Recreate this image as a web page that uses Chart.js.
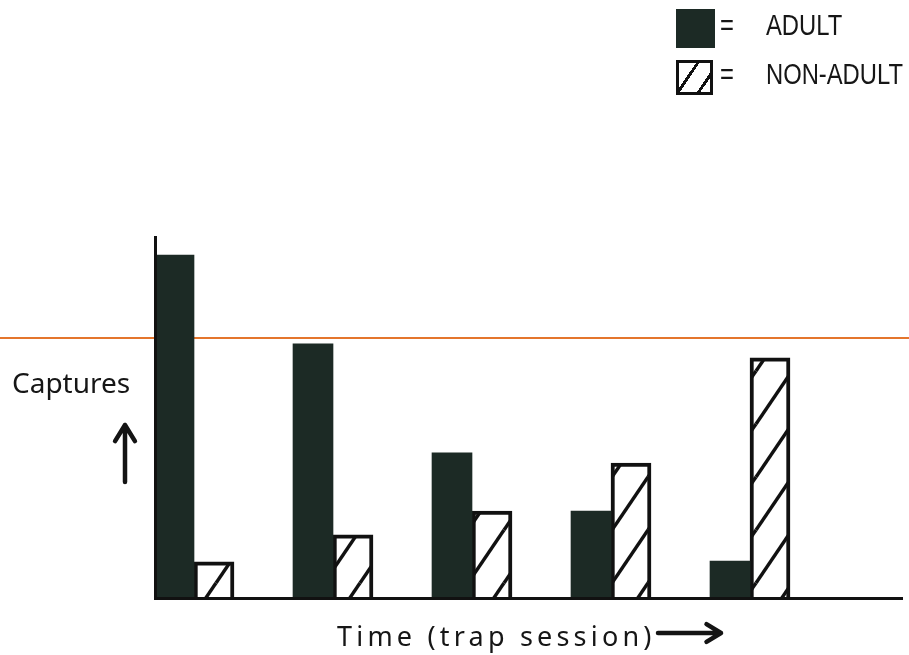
<!DOCTYPE html>
<html>
<head>
<meta charset="utf-8">
<title>Captures per trap session</title>
<script src="https://cdn.jsdelivr.net/npm/chart.js@4.4.1/dist/chart.umd.min.js"></script>
<style>
  html, body { margin: 0; padding: 0; background: #fff; }
  #wrap { position: relative; width: 909px; height: 655px; overflow: hidden; background: #fff; }
  #wrap canvas { position: absolute; left: 0; top: 0; }
  .lbl { position: absolute; white-space: nowrap; line-height: 1; color: #161616; }
  .hand { font-family: 'Noto Sans', sans-serif; }
  .caps { font-family: 'Liberation Sans', Arial, sans-serif; font-size: 29px;
          transform: scaleX(0.82); transform-origin: left top; }
  .swatch { position: absolute; box-sizing: border-box; }
</style>
</head>
<body>
<div id="wrap">
  <canvas id="chart" width="909" height="655"></canvas>

  <!-- legenda -->
  <div class="swatch" style="left:676px; top:9px; width:39px; height:39px; background:#1c2a25;"></div>
  <div class="lbl caps" style="left:720px; top:11px;">=</div>
  <div class="lbl caps" style="left:766px; top:11px;">ADULT</div>
  <div class="swatch" style="left:676px; top:60px; width:37px; height:35px; border:3px solid #111;
       background:repeating-linear-gradient(124deg, #fff 0px, #fff 14px, #111 14px, #111 17px);"></div>
  <div class="lbl caps" style="left:720px; top:60px;">=</div>
  <div class="lbl caps" style="left:766px; top:60px;">NON-ADULT</div>

  <!-- eixos -->
  <div class="lbl hand" style="left:12px; top:368px; font-size:28px;">Captures</div>
  <div class="lbl hand" style="left:337px; top:622px; font-size:27px; letter-spacing:4.2px;">Time (trap session)</div>
</div>

<script>
const sessions = [1, 2, 3, 4, 5];
const adultCaptures = [95, 70.4, 40.2, 24.1, 10.2];
const nonAdultCaptures = [10, 17.5, 24.1, 37.4, 66.5];
const referenceLevel = 72;

// hachura "/" para os nao-adultos
function makeHatch(ctx) {
  const w = 36, h = 53;
  const tile = document.createElement('canvas');
  tile.width = w;
  tile.height = h;
  const t = tile.getContext('2d');
  t.fillStyle = '#fff';
  t.fillRect(0, 0, w, h);
  t.strokeStyle = '#111';
  t.lineWidth = 3.5;
  for (const dx of [-w, 0, w]) {
    for (const dy of [-h, 0, h]) {
      t.beginPath();
      t.moveTo(dx, dy + h);
      t.lineTo(dx + w, dy);
      t.stroke();
    }
  }
  return ctx.createPattern(tile, 'repeat');
}

function drawArrow(ctx, x1, y1, x2, y2, head) {
  const a = Math.atan2(y2 - y1, x2 - x1);
  ctx.beginPath();
  ctx.moveTo(x1, y1);
  ctx.lineTo(x2, y2);
  ctx.moveTo(x2 - head * Math.cos(a - 0.55), y2 - head * Math.sin(a - 0.55));
  ctx.lineTo(x2, y2);
  ctx.lineTo(x2 - head * Math.cos(a + 0.55), y2 - head * Math.sin(a + 0.55));
  ctx.stroke();
}

const sketchExtras = {
  id: 'sketchExtras',
  beforeDatasetsDraw(chart) {
    const { ctx, scales } = chart;
    const yRef = scales.y.getPixelForValue(referenceLevel);
    ctx.save();
    ctx.strokeStyle = '#e4752c';
    ctx.lineWidth = 2;
    ctx.beginPath();
    ctx.moveTo(0, yRef);
    ctx.lineTo(chart.width, yRef);
    ctx.stroke();
    ctx.restore();
  },
  afterDraw(chart) {
    const { ctx, chartArea } = chart;
    ctx.save();
    ctx.strokeStyle = '#141414';
    ctx.lineWidth = 4.5;
    ctx.lineCap = 'round';
    ctx.lineJoin = 'round';
    // seta vertical ao lado de "Captures"
    drawArrow(ctx, chartArea.left - 30, 482, chartArea.left - 30, 425, 19);
    // seta do tempo
    drawArrow(ctx, 658, 633, 721, 633, 17);
    ctx.restore();
  }
};

function renderCaptures(canvasId) {
  const ctx = document.getElementById(canvasId)?.getContext('2d');
  if (!ctx) return null;

  const hatch = makeHatch(ctx);

  return new Chart(ctx, {
    type: 'bar',
    data: {
      datasets: [
        {
          label: 'ADULT',
          data: sessions.map((s, i) => ({ x: s, y: adultCaptures[i] })),
          backgroundColor: '#1c2a25',
          borderWidth: 0,
          barThickness: 40,
        },
        {
          label: 'NON-ADULT',
          data: sessions.map((s, i) => ({ x: s, y: nonAdultCaptures[i] })),
          backgroundColor: hatch,
          borderColor: '#111',
          borderWidth: 4,
          borderSkipped: 'start',
          barThickness: 40,
        }
      ]
    },
    options: {
      responsive: false,
      animation: false,
      layout: { padding: { left: 155, right: 7, top: 237, bottom: 57 } },
      plugins: {
        legend: { display: false },
        tooltip: { enabled: false },
      },
      scales: {
        x: {
          type: 'linear',
          min: 0.7194,
          max: 6.0935,
          offset: false,
          ticks: { display: false },
          grid: { display: false, drawTicks: false },
          border: { display: true, color: '#111', width: 3, z: 1 },
        },
        y: {
          min: 0,
          max: 100,
          ticks: { display: false },
          grid: { display: false, drawTicks: false },
          border: { display: true, color: '#111', width: 3, z: 1 },
        }
      }
    },
    plugins: [sketchExtras]
  });
}

renderCaptures('chart');
</script>
</body>
</html>
